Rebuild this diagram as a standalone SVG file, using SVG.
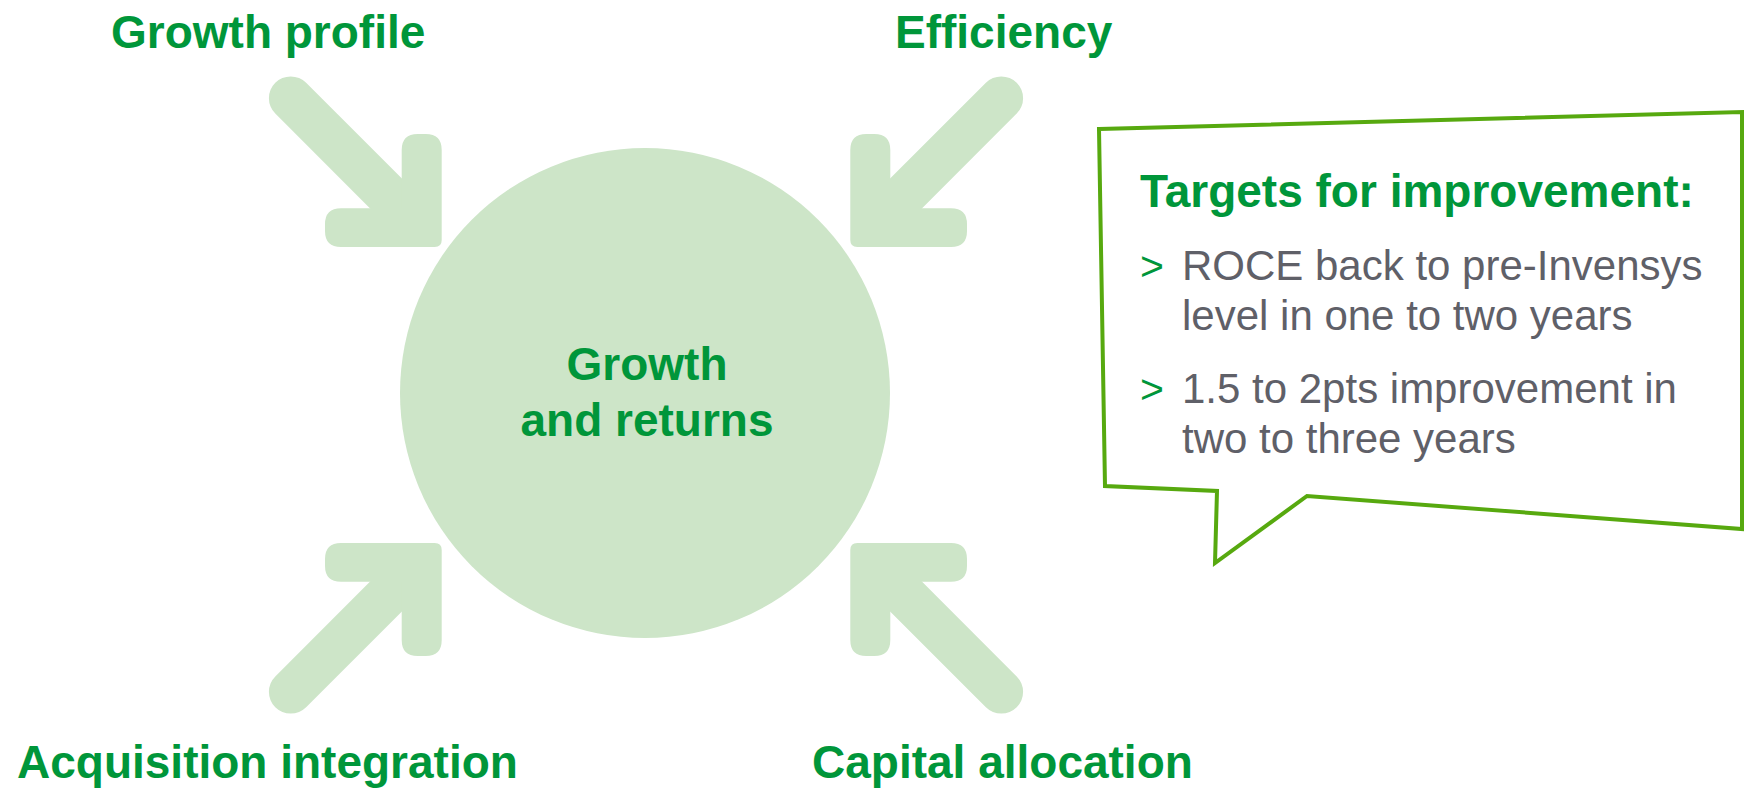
<svg xmlns="http://www.w3.org/2000/svg" xmlns:xlink="http://www.w3.org/1999/xlink" width="1744" height="788" viewBox="0 0 1744 788">
  <style>
    .label { font-family: "Liberation Sans", Arial, sans-serif; font-weight: bold; font-size: 46px; fill: #00963a; }
    .body { font-family: "Liberation Sans", Arial, sans-serif; font-size: 42px; fill: #5f6068; }
    .bullet { font-family: "Liberation Sans", Arial, sans-serif; font-size: 41px; fill: #00963a; }
    .soft { fill: #cde5c8; }
    .shaft { stroke: #cde5c8; stroke-width: 43.6; stroke-linecap: round; fill: none; }
    .callout { fill: #ffffff; stroke: #57a90f; stroke-width: 4; stroke-linejoin: miter; }
  </style>
  <defs>
    <!-- inward-pointing arrow, drawn for the upper-left position -->
    <g id="arrow">
      <path class="shaft" d="M290.7,98.2 L417,224.5"/>
      <path class="soft" d="M401.7,150 Q401.7,134 417.7,134 L425.7,134 Q441.7,134 441.7,150 L441.7,240 Q441.7,247 434.7,247 L341,247 Q325,247 325,231 L325,224.3 Q325,208.3 341,208.3 L401.7,208.3 Z"/>
    </g>
  </defs>

  <rect width="1744" height="788" fill="#ffffff"/>

  <!-- central node -->
  <g id="node-growth-returns">
    <circle class="soft" cx="645" cy="393" r="245"/>
    <text class="label" x="647" y="380" text-anchor="middle">Growth</text>
    <text class="label" x="647" y="436" text-anchor="middle">and returns</text>
  </g>

  <!-- connectors: four arrows pointing into the circle -->
  <g id="connectors">
    <use xlink:href="#arrow" href="#arrow"/>
    <use xlink:href="#arrow" href="#arrow" transform="translate(1292,0) scale(-1,1)"/>
    <use xlink:href="#arrow" href="#arrow" transform="translate(0,790) scale(1,-1)"/>
    <use xlink:href="#arrow" href="#arrow" transform="translate(1292,790) scale(-1,-1)"/>
  </g>

  <g id="node-growth-profile">
    <text class="label" x="111" y="48">Growth profile</text>
  </g>
  <g id="node-efficiency">
    <text class="label" x="895" y="48">Efficiency</text>
  </g>
  <g id="node-acquisition">
    <text class="label" x="17" y="778">Acquisition integration</text>
  </g>
  <g id="node-capital">
    <text class="label" x="812" y="778">Capital allocation</text>
  </g>

  <!-- speech bubble with targets -->
  <g id="node-targets">
    <path class="callout" d="M1099,129 L1742,112 L1742,529 L1307,496 L1215,563 L1217,491 L1105,486 Z"/>
    <text class="label" x="1140" y="207">Targets for improvement:</text>
    <text class="bullet" x="1140" y="280">&gt;</text>
    <text class="body" x="1182" y="280">ROCE back to pre-Invensys</text>
    <text class="body" x="1182" y="330">level in one to two years</text>
    <text class="bullet" x="1140" y="403">&gt;</text>
    <text class="body" x="1182" y="403">1.5 to 2pts improvement in</text>
    <text class="body" x="1182" y="453">two to three years</text>
  </g>
</svg>
